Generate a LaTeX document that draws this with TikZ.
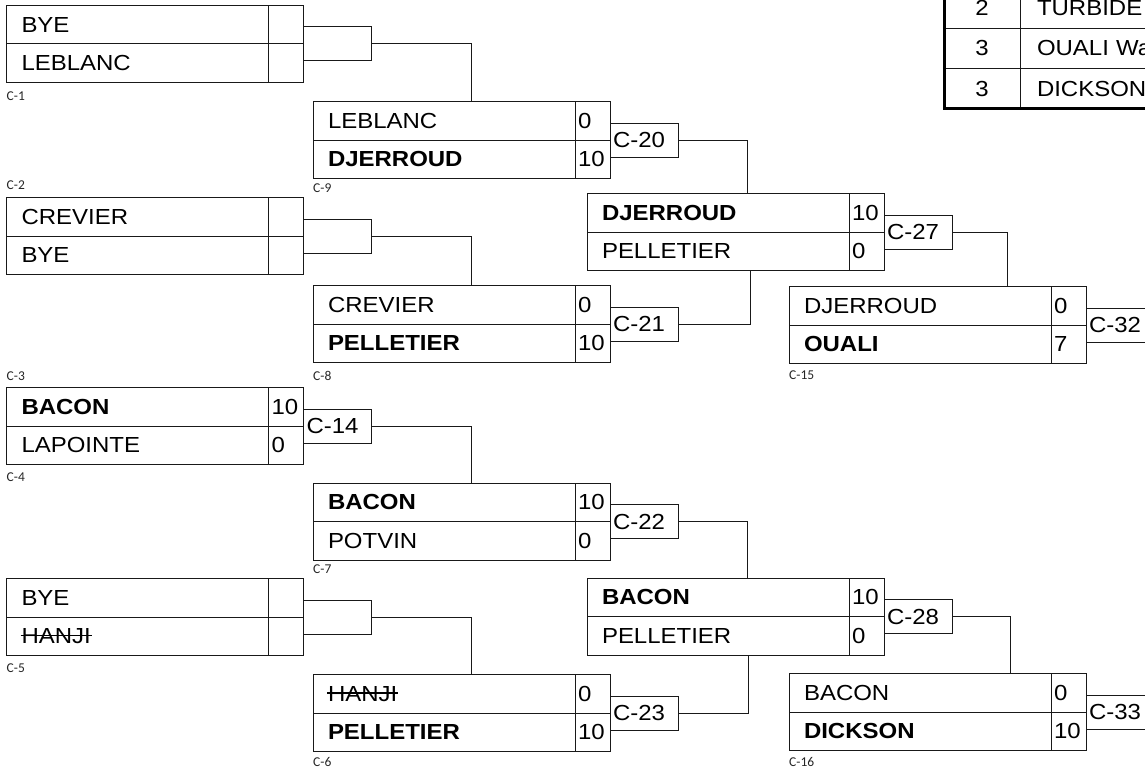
\documentclass[tikz,border=0pt]{standalone}
\usepackage{fontspec}
\setmainfont[FakeStretch=1.1]{Liberation Sans}
\newfontfamily\lblfont{Carlito}
\usetikzlibrary{calc}
\newcommand\strk[1]{\setbox0\hbox{#1}\rlap{\kern-1pt\rule[0.36em]{\dimexpr\wd0+2pt\relax}{1.4pt}}#1}
\tikzset{
  cell/.style={draw=black!90, line width=1pt, outer sep=0pt, minimum height=38.5pt, inner ysep=0pt,
    text height=15.4pt, text depth=0pt, align=left, font=\fontsize{21.8}{24}\selectfont},
  namecell/.style={cell, text width=232pt, inner xsep=15pt},
  scorecell/.style={cell, text width=29pt, inner xsep=3pt},
  bracket/.style={cell, minimum height=34pt, text width=62pt, inner xsep=3pt},
  conn/.style={draw=black!90, line width=1pt},
  lbl/.style={font=\lblfont\fontsize{13.5}{15}\selectfont, inner sep=0pt, anchor=west, text=black!85},
  tnum/.style={cell, minimum height=40pt, text width=76pt, inner xsep=0pt, align=center},
  tname/.style={cell, minimum height=40pt, text width=220pt, inner xsep=17pt},
}
% #1 id, #2 x, #3 mid y, #4 name1, #5 score1, #6 name2, #7 score2, #8 bracket label
\newcommand\matchbox[8]{%
  \node[namecell, anchor=south west] (#1n1) at (#2,#3) {#4};
  \node[scorecell, anchor=west] (#1s1) at (#1n1.east) {#5};
  \node[namecell, anchor=north west] (#1n2) at (#1n1.south west) {#6};
  \node[scorecell, anchor=west] (#1s2) at (#1n2.east) {#7};
  \node[bracket, anchor=west] (#1b) at (#1s1.south east) {#8};
}
\begin{document}
\begin{tikzpicture}[x=1pt,y=-1pt]
\useasboundingbox (0,0) rectangle (1145,768);
% round 1
\matchbox{m1}{6.5}{44}{BYE}{}{LEBLANC}{}{}
\matchbox{m2}{6.5}{236}{CREVIER}{}{BYE}{}{}
\matchbox{m3}{6.5}{426}{\bfseries BACON}{10}{LAPOINTE}{0}{C-14}
\matchbox{m5}{6.5}{617}{BYE}{}{\strk{HANJI}}{}{}
% round 2
\matchbox{m9}{313}{140}{LEBLANC}{0}{\bfseries DJERROUD}{10}{C-20}
\matchbox{m8}{313}{324}{CREVIER}{0}{\bfseries PELLETIER}{10}{C-21}
\matchbox{m7}{313}{521.5}{\bfseries BACON}{10}{POTVIN}{0}{C-22}
\matchbox{m6}{313}{713}{\strk{HANJI}}{0}{\bfseries PELLETIER}{10}{C-23}
% round 3
\matchbox{ma}{587}{232}{\bfseries DJERROUD}{10}{PELLETIER}{0}{C-27}
\matchbox{mb}{587}{616.5}{\bfseries BACON}{10}{PELLETIER}{0}{C-28}
% round 4
\matchbox{m15}{789}{325}{DJERROUD}{0}{\bfseries OUALI}{7}{C-32}
\matchbox{m16}{789}{712}{BACON}{0}{\bfseries DICKSON}{10}{C-33}
% connectors
\draw[conn] (m1b.east) -| ($(m9n1.north west)+(158,0)$);
\draw[conn] (m2b.east) -| ($(m8n1.north west)+(158,0)$);
\draw[conn] (m3b.east) -| ($(m7n1.north west)+(158,0)$);
\draw[conn] (m5b.east) -| ($(m6n1.north west)+(158,0)$);
\draw[conn] (m9b.east) -| ($(man1.north west)+(160,0)$);
\draw[conn] (m8b.east) -| ($(man2.south west)+(163,0)$);
\draw[conn] (m7b.east) -| ($(mbn1.north west)+(160,0)$);
\draw[conn] (m6b.east) -| ($(mbn2.south west)+(161,0)$);
\draw[conn] (mab.east) -| ($(m15n1.north west)+(218,0)$);
\draw[conn] (mbb.east) -| ($(m16n1.north west)+(221,0)$);
% small labels
\node[lbl] (l1) at (6.5,96) {C-1};
\node[lbl] (l2) at (6.5,185) {C-2};
\node[lbl] (l3) at (6.5,376) {C-3};
\node[lbl] (l4) at (6.5,477) {C-4};
\node[lbl] (l5) at (6.5,668) {C-5};
\node[lbl] (l9) at (313,188) {C-9};
\node[lbl] (l8) at (313,376) {C-8};
\node[lbl] (l7) at (313,569) {C-7};
\node[lbl] (l6) at (313,762) {C-6};
\node[lbl] (l15) at (789,375) {C-15};
\node[lbl] (l16) at (789,762) {C-16};
% ranking table
\node[tnum, anchor=north west] (t1r) at (944,-11.7) {2};
\node[tname, anchor=west] (t1n) at (t1r.east) {TURBIDE};
\node[tnum, anchor=north west] (t2r) at (t1r.south west) {3};
\node[tname, anchor=west] (t2n) at (t2r.east) {OUALI Wa};
\node[tnum, anchor=north west] (t3r) at (t2r.south west) {3};
\node[tname, anchor=west] (t3n) at (t3r.east) {DICKSON};
\draw[line width=3pt] (t1r.north west) -- (t3r.south west) -- (t3n.south east);
\end{tikzpicture}
\end{document}
